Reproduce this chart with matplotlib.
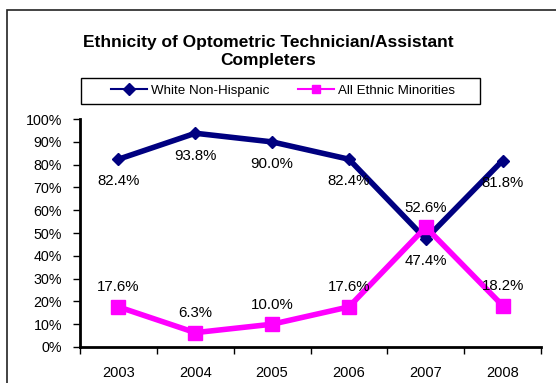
import matplotlib.pyplot as plt
from matplotlib.patches import Rectangle

plt.rcParams['font.family'] = ['Liberation Sans', 'DejaVu Sans']

years = ['2003', '2004', '2005', '2006', '2007', '2008']
white = [82.4, 93.8, 90.0, 82.4, 47.4, 81.8]
minorities = [17.6, 6.3, 10.0, 17.6, 52.6, 18.2]

fig = plt.figure(figsize=(5.56, 3.83), dpi=100)
ax = fig.add_axes([0.144, 0.094, 0.829, 0.595])

# outer chart frame (cropped at right/bottom)
fig.patches.append(Rectangle((7 / 556, -0.1), 1.2, 1 - 10 / 383 + 0.1,
                             transform=fig.transFigure, fill=False,
                             edgecolor='#222222', linewidth=1.2))

x = list(range(len(years)))
ax.plot(x, white, color='#000080', linewidth=4, marker='D', markersize=6,
        label='White Non-Hispanic')
ax.plot(x, minorities, color='#FF00FF', linewidth=4, marker='s', markersize=10,
        label='All Ethnic Minorities')

for i, v in enumerate(white):
    ax.annotate(f'{v:.1f}%', (i, v), xytext=(0, -11), textcoords='offset points',
                ha='center', va='top', fontsize=10.8)
for i, v in enumerate(minorities):
    ax.annotate(f'{v:.1f}%', (i, v), xytext=(0, 9), textcoords='offset points',
                ha='center', va='bottom', fontsize=10.8)

ax.set_xlim(-0.5, len(years) - 0.5)
ax.set_ylim(0, 100)
ax.set_yticks(range(0, 101, 10))
ax.set_yticklabels([f'{t}%' for t in range(0, 101, 10)], fontsize=10.3)
ax.set_xticks(x)
ax.set_xticklabels(years, fontsize=10.5)
ax.set_xticks([i - 0.5 for i in range(len(years) + 1)], minor=True)
ax.tick_params(axis='x', which='major', length=0, pad=14)
ax.tick_params(axis='x', which='minor', length=5, width=1, direction='out')
ax.tick_params(axis='y', length=5, width=1, direction='out', pad=8)
for s in ['top', 'right']:
    ax.spines[s].set_visible(False)
for s in ['left', 'bottom']:
    ax.spines[s].set_linewidth(2)

fig.text(268 / 556, 1 - 52 / 383, 'Ethnicity of Optometric Technician/Assistant\nCompleters',
         ha='center', va='center', fontsize=12.5, fontweight='bold', linespacing=1.25)

# legend box drawn separately to match the wide padded frame
fig.patches.append(Rectangle((81 / 556, 1 - 104 / 383), 399 / 556, 26 / 383,
                             transform=fig.transFigure, fill=False,
                             edgecolor='black', linewidth=1))
leg = fig.legend(loc='center', bbox_to_anchor=(283 / 556, 1 - 91 / 383), ncol=2,
                 fontsize=9.6, frameon=False,
                 handlelength=2.7, columnspacing=2.2, borderpad=0.2, handletextpad=0.25)
for h in leg.legend_handles:
    h.set_linewidth(1.5)
    h.set_markersize(6)

fig.savefig('out.png', dpi=100)
